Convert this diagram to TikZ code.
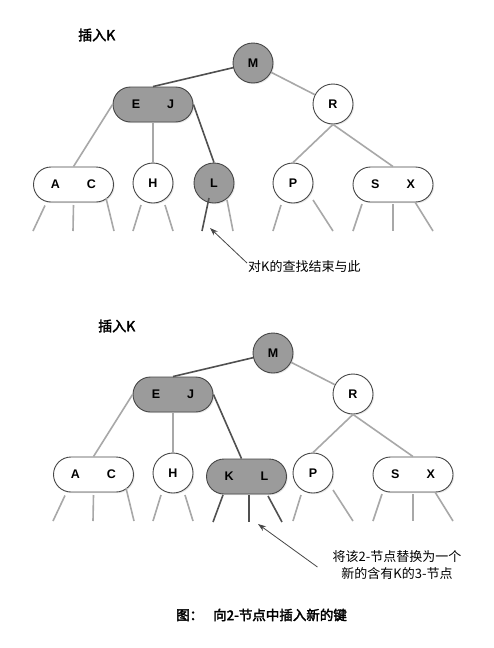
\documentclass[tikz,border=0pt]{standalone}
\usepackage{fontspec}
\setmainfont{Liberation Sans}
\newfontfamily\cjk{Noto Sans CJK SC}[AutoFakeBold=2.5]
\usetikzlibrary{shadows,calc,arrows.meta}
\definecolor{ngray}{RGB}{155,155,155}
\definecolor{noutl}{RGB}{70,70,70}
\definecolor{gedge}{RGB}{168,168,168}
\definecolor{dedgec}{RGB}{80,80,80}
\definecolor{arrc}{RGB}{70,70,70}
\tikzset{
  nodebase/.style={inner sep=0pt, draw=noutl, line width=0.9pt,
    font=\fontsize{12.5}{13}\selectfont\bfseries,
    drop shadow={opacity=0.18, shadow xshift=1.2pt, shadow yshift=-1.2pt}},
  wcirc/.style={nodebase, circle, minimum size=40pt, fill=white},
  gcirc/.style={nodebase, circle, minimum size=40pt, fill=ngray},
  wbox/.style={nodebase, rectangle, rounded corners=17.5pt, minimum width=80pt, minimum height=35pt, fill=white},
  gbox/.style={wbox, fill=ngray},
  gline/.style={draw=gedge, line width=1.6pt},
  dline/.style={draw=dedgec, line width=1.6pt},
  arr/.style={draw=arrc, line width=0.8pt, -{Stealth[length=8pt,width=5.5pt]}},
  titletext/.style={inner sep=0pt, anchor=west, font=\cjk\bfseries\fontsize{14}{16}\selectfont},
  notetext/.style={inner sep=0pt, font=\cjk\fontsize{13}{17}\selectfont}
}
\begin{document}
\begin{tikzpicture}[x=1pt,y=-1pt]
\useasboundingbox (0,0) rectangle (494,648);
\fill[white] (0,0) rectangle (494,648);

% ---------- top tree ----------
\node[titletext] (title1) at (78,35) {插入K};
\node[gcirc] (m1) at (253,63) {M};
\node[gbox] (ej1) at (153,104.5) {E\hspace{27pt}J};
\node[wcirc] (r1) at (333,104) {R};
\node[wbox] (ac1) at (73.5,184.5) {A\hspace{27pt}C};
\node[wcirc] (h1) at (153,183) {H};
\node[gcirc] (l1) at (214,183) {L};
\node[wcirc] (p1) at (293,183) {P};
\node[wbox] (sx1) at (393,184.5) {S\hspace{27pt}X};

\draw[dline] (m1) -- (ej1.north);
\draw[gline] (m1) -- (r1);
\draw[gline] (ej1.west) -- (ac1.north);
\draw[gline] (ej1.south) -- (h1.north);
\draw[dline] (ej1.east) -- (l1.north);
\draw[gline] (r1.south) -- (p1.north);
\draw[gline] (r1.south) -- (sx1.north);

\coordinate (ac1a) at (33,231);
\coordinate (ac1b) at (73,231);
\coordinate (ac1c) at (114,231);
\coordinate (h1a) at (133,231);
\coordinate (h1b) at (173,231);
\coordinate (l1a) at (202,231);
\coordinate (l1b) at (233,231);
\coordinate (p1a) at (273,231);
\coordinate (p1b) at (333,231);
\coordinate (sx1a) at (353,231);
\coordinate (sx1b) at (393,231);
\coordinate (sx1c) at (433,231);

\draw[gline] ($(ac1)+(-28.5,21)$) -- (ac1a);
\draw[gline] ($(ac1)+(0,20.5)$) -- (ac1b);
\draw[gline] ($(ac1)+(32.5,13.5)$) -- (ac1c);
\draw[gline] ($(h1)+(-12,22)$) -- (h1a);
\draw[gline] ($(h1)+(12,22)$) -- (h1b);
\draw[dline] ($(l1)+(-5,15)$) -- (l1a);
\draw[gline] ($(l1)+(13,17)$) -- (l1b);
\draw[gline] ($(p1)+(-12,22)$) -- (p1a);
\draw[gline] ($(p1)+(20,17)$) -- (p1b);
\draw[gline] ($(sx1)+(-31,19.5)$) -- (sx1a);
\draw[gline] ($(sx1)+(0,19.5)$) -- (sx1b);
\draw[gline] ($(sx1)+(22,17.5)$) -- (sx1c);

\node[notetext, anchor=west] (t1) at (248,267) {对K的查找结束与此};
\coordinate (a1end) at (210,228);
\draw[arr] ($(t1.west)+(-1,-4)$) -- (a1end);

% ---------- bottom tree ----------
\node[titletext] (title2) at (98,326) {插入K};
\node[gcirc] (m2) at (273,353) {M};
\node[gbox] (ej2) at (173,394.5) {E\hspace{27pt}J};
\node[wcirc] (r2) at (353,394) {R};
\node[wbox] (ac2) at (93.5,474.5) {A\hspace{27pt}C};
\node[wcirc] (h2) at (173,473) {H};
\node[gbox] (kl2) at (246.5,476.5) {K\hspace{27pt}L};
\node[wcirc] (p2) at (313,473) {P};
\node[wbox] (sx2) at (413,474.5) {S\hspace{27pt}X};

\draw[dline] (m2) -- (ej2.north);
\draw[gline] (m2) -- (r2);
\draw[gline] (ej2.west) -- (ac2.north);
\draw[gline] (ej2.south) -- (h2.north);
\draw[dline] (ej2.east) -- ($(kl2.north)+(-5,0)$);
\draw[gline] (r2.south) -- (p2.north);
\draw[gline] (r2.south) -- (sx2.north);

\coordinate (ac2a) at (53,521);
\coordinate (ac2b) at (93,521);
\coordinate (ac2c) at (134,521);
\coordinate (h2a) at (153,521);
\coordinate (h2b) at (193,521);
\coordinate (kl2a) at (213,522);
\coordinate (kl2b) at (249,522);
\coordinate (kl2c) at (282,522);
\coordinate (p2a) at (293,521);
\coordinate (p2b) at (353,521);
\coordinate (sx2a) at (373,521);
\coordinate (sx2b) at (413,521);
\coordinate (sx2c) at (453,521);

\draw[gline] ($(ac2)+(-28.5,21)$) -- (ac2a);
\draw[gline] ($(ac2)+(0,20.5)$) -- (ac2b);
\draw[gline] ($(ac2)+(32.5,13.5)$) -- (ac2c);
\draw[gline] ($(h2)+(-12,22)$) -- (h2a);
\draw[gline] ($(h2)+(12,22)$) -- (h2b);
\draw[dline] ($(kl2)+(-23.5,18.5)$) -- (kl2a);
\draw[dline] ($(kl2)+(2.5,18.5)$) -- (kl2b);
\draw[dline] ($(kl2)+(21.5,19.5)$) -- (kl2c);
\draw[gline] ($(p2)+(-12,22)$) -- (p2a);
\draw[gline] ($(p2)+(20,17)$) -- (p2b);
\draw[gline] ($(sx2)+(-31,19.5)$) -- (sx2a);
\draw[gline] ($(sx2)+(0,19.5)$) -- (sx2b);
\draw[gline] ($(sx2)+(22,17.5)$) -- (sx2c);

\node[notetext, align=center] (t2) at (397,565.5) {将该2-节点替换为一个\\新的含有K的3-节点};
\coordinate (a2end) at (258,524);
\draw[arr] ($(t2.west)+(-15,1.5)$) -- (a2end);

\node[inner sep=0pt, anchor=west, font=\cjk\bfseries\fontsize{13.5}{16}\selectfont] (cap) at (176,615) {图：\hspace{10pt}向2-节点中插入新的键};
\end{tikzpicture}
\end{document}
